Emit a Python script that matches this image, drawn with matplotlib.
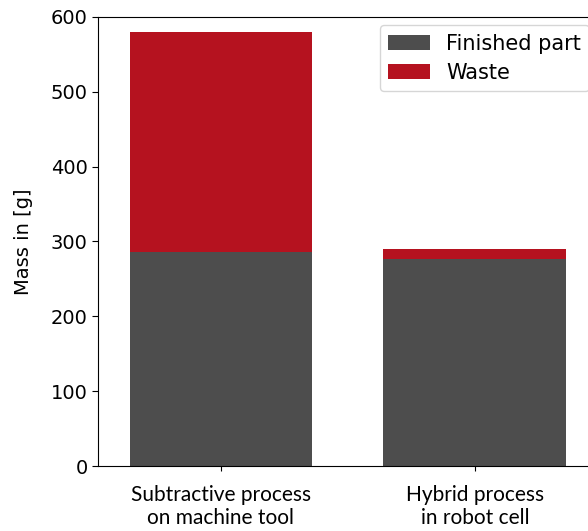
import numpy as np
import matplotlib.pyplot as plt

processes = ['Subtractive process\non machine tool', 'Hybrid process\nin robot cell']
finished = [286, 277]
waste = [294, 13]

c_finished = '#4d4d4d'
c_waste = '#b5121f'

plt.rcParams['font.size'] = 14

fig = plt.figure(figsize=(5.88, 5.31), dpi=100)
ax = fig.add_axes([0.1667, 0.1224, 0.85, 0.8456])

x = np.arange(len(processes))
ax.bar(x, finished, width=0.72, color=c_finished, label='Finished part')
ax.bar(x, waste, width=0.72, bottom=finished, color=c_waste, label='Waste')

ax.set_xlim(-0.484, 1.484)
ax.set_ylim(0, 600)
ax.set_xticks(x)
ax.set_xticklabels(processes, family='Lato', fontsize=15)
ax.tick_params(axis='x', pad=10)
ax.tick_params(axis='y', length=4.5, pad=3)
ax.set_ylabel('Mass in [g]')
ax.yaxis.set_label_coords(-0.13, 0.5)
ax.legend(loc='upper right', fontsize=15, handlelength=2.0,
          borderaxespad=0.4, labelspacing=0.45)

fig.savefig('out.png', dpi=100)
